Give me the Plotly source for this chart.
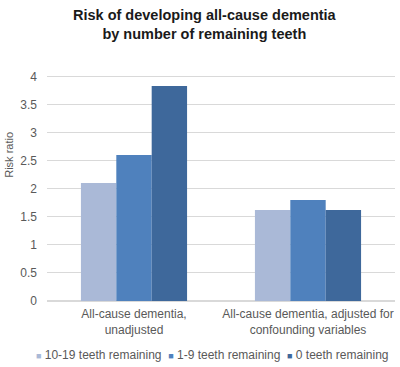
import plotly.graph_objects as go

categories = ["All-cause dementia,<br>unadjusted", "All-cause dementia, adjusted for<br>confounding variables"]
series_names = ["10-19 teeth remaining", "1-9 teeth remaining", "0 teeth remaining"]
values_10_19 = [2.1, 1.62]
values_1_9 = [2.6, 1.8]
values_0 = [3.83, 1.62]
colors = ["#AAB9D7", "#4F81BD", "#3E689B"]
y_ticks = [0, 0.5, 1, 1.5, 2, 2.5, 3, 3.5, 4]
y_tick_labels = ["0", "0.5", "1", "1.5", "2", "2.5", "3", "3.5", "4"]
title_text = "<b>Risk of developing all-cause dementia<br>by number of remaining teeth</b>"

fig = go.Figure()
for name, vals, c in zip(series_names, [values_10_19, values_1_9, values_0], colors):
    fig.add_trace(go.Bar(x=categories, y=vals, name=name, showlegend=False,
                         marker=dict(color=c, line=dict(width=0))))

fig.update_layout(
    width=400, height=367,
    paper_bgcolor="white", plot_bgcolor="white",
    font=dict(family="Liberation Sans, Arial, sans-serif", size=12, color="#595959"),
    margin=dict(l=47, r=5, t=73, b=66),
    barmode="group", bargap=0.39, bargroupgap=0,
    showlegend=False,
    xaxis=dict(showgrid=False, showline=False, ticks="", automargin=False,
               ticklabelstandoff=4, tickfont=dict(size=12, color="#595959")),
    yaxis=dict(range=[0, 4.06], tickvals=y_ticks, ticktext=y_tick_labels, automargin=False,
               showgrid=True, gridcolor="#D9D9D9", gridwidth=1, zeroline=True,
               zerolinecolor="#D9D9D9", ticks="", ticklabelstandoff=9,
               tickfont=dict(size=12, color="#595959")),
)
fig.add_annotation(text=title_text, xref="paper", yref="paper", x=0.455, y=1.30,
                   showarrow=False, xanchor="center", yanchor="top",
                   font=dict(size=14.5, color="#1a1a1a"))
fig.add_annotation(text="Risk ratio", xref="paper", yref="paper", x=-0.11, y=0.64,
                   textangle=-90, showarrow=False, font=dict(size=11, color="#595959"),
                   xanchor="center", yanchor="middle")

legend_text = "  ".join(
    f"<span style='color:{c};font-size:9px'>■</span> {n}" for n, c in zip(series_names, colors)
)
fig.add_annotation(text=legend_text, xref="paper", yref="paper", x=0.475, y=-0.235,
                   showarrow=False, xanchor="center", yanchor="middle",
                   font=dict(size=12, color="#595959"))

fig.write_html("out.html", config={"displayModeBar": False},
               post_script="document.body.style.margin='0';document.body.style.padding='0';")
